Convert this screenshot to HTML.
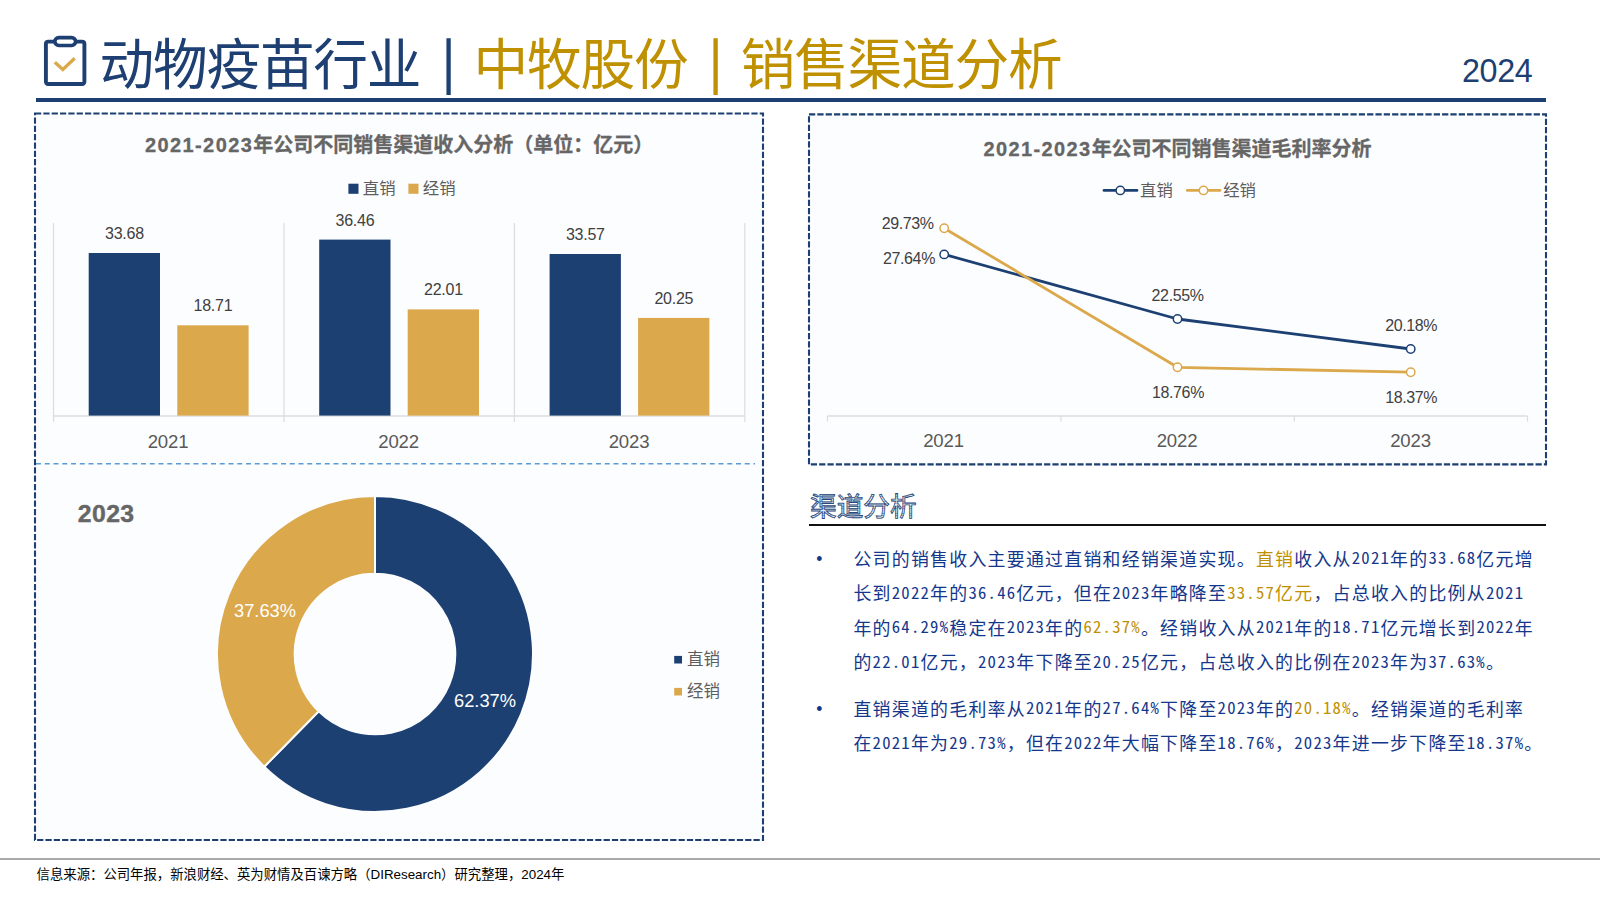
<!DOCTYPE html>
<html lang="zh-CN">
<head>
<meta charset="utf-8">
<title>动物疫苗行业｜中牧股份｜销售渠道分析</title>
<style>
html,body{margin:0;padding:0;background:#fff;}
body{width:1600px;height:900px;position:relative;overflow:hidden;
  font-family:"Liberation Sans","Noto Sans CJK SC",sans-serif;}
.abs{position:absolute;}
#hdr-title{left:99.6px;top:26px;height:78px;line-height:78px;font-size:54.7px;letter-spacing:-1.26px;white-space:nowrap;
  font-family:"Liberation Sans","Noto Sans CJK SC",sans-serif;font-weight:400;color:#1d3f72;}
#hdr-title .g{color:#bf9000;}
#hdr-title .bar{display:inline-block;position:relative;top:3px;left:1px;width:53.44px;letter-spacing:0;text-align:center;-webkit-text-stroke:2px currentColor;}
#hdr-year{right:67.6px;top:52.3px;font-size:32.3px;letter-spacing:-0.35px;line-height:38px;color:#1d3f72;white-space:nowrap;}
#hdr-line{left:36px;top:98px;width:1510px;height:4px;background:#1d3f72;}
#foot-line{left:0;top:858px;width:1600px;height:2px;background:#a9a9a9;}
#foot{left:36.6px;top:866px;font-size:13.36px;line-height:18px;color:#000;white-space:nowrap;}
svg text{font-family:"Liberation Sans","Noto Sans CJK SC",sans-serif;}
#sec-title{left:810px;top:489px;font-size:26.67px;line-height:36px;white-space:nowrap;
  font-family:"Liberation Sans","Noto Sans CJK SC",sans-serif;font-weight:400;
  color:transparent;background:repeating-linear-gradient(0deg,#eef1f6 0,#eef1f6 1.5px,#a3b2cb 1.5px,#a3b2cb 2.4px);-webkit-background-clip:text;background-clip:text;-webkit-text-stroke:0.85px #2a4a7d;}
#sec-line{left:809px;top:523.5px;width:737px;height:2.2px;background:#111;}
.para{left:853.4px;font-size:17.9px;letter-spacing:1.276px;line-height:34.58px;color:#14378b;white-space:nowrap;
  font-family:"Noto Sans CJK SC","Liberation Sans",sans-serif;}
.para i{font-style:normal;font-family:"Noto Sans CJK SC","Liberation Sans",sans-serif;font-feature-settings:"hwid" 1;font-size:16.7px;letter-spacing:1.238px;position:relative;top:-1.5px;line-height:0;}
.para .g{color:#bf9000;}
.bul{left:814.4px;font-size:17.5px;line-height:34.58px;color:#14378b;width:10px;text-align:center;}
</style>
</head>
<body>
<!-- ============ HEADER ============ -->
<svg class="abs" style="left:38px;top:30px" width="56" height="62" viewBox="38 30 56 62">
  <rect x="45.9" y="41.6" width="38.5" height="42.4" rx="2.2" ry="2.2" fill="none" stroke="#1d3f72" stroke-width="3.9"/>
  <rect x="54.84" y="37.58" width="20.75" height="7.9" rx="3.95" ry="3.95" fill="#fff" stroke="#1d3f72" stroke-width="3.6"/>
  <polyline points="54.8,62.2 62.85,69.5 74.7,58.2" fill="none" stroke="#dba84b" stroke-width="3.3"/>
</svg>
<div id="hdr-title" class="abs">动物疫苗行业<span class="bar">｜</span><span class="g">中牧股份<span class="bar">｜</span>销售渠道分析</span></div>
<div id="hdr-year" class="abs">2024</div>
<div id="hdr-line" class="abs"></div>

<!-- ============ PANELS / CHARTS ============ -->
<svg class="abs" style="left:0;top:0" width="1600" height="900" viewBox="0 0 1600 900">
  <!-- panel boxes -->
  <rect x="35" y="113.5" width="728" height="726.5" fill="#fcfdff" stroke="#1d3f72" stroke-width="2.1" stroke-dasharray="6.25 2.08"/>
  <rect x="809" y="114.4" width="737" height="350" fill="#fcfdff" stroke="#1d3f72" stroke-width="2.1" stroke-dasharray="6.25 2.08"/>
  <line x1="36" y1="463.7" x2="755" y2="463.7" stroke="#5b9bd5" stroke-width="1.5" stroke-dasharray="5 3.75"/>

  <!-- ===== bar chart ===== -->
  <text x="399.1" y="152" text-anchor="middle" font-size="20" font-weight="700" fill="#666" stroke="#666" stroke-width="0.3"><tspan letter-spacing="1.4">2021-2023</tspan>年公司不同销售渠道收入分析（单位：亿元）</text>
  <rect x="348.4" y="183.7" width="10.1" height="10.1" fill="#1d4073"/>
  <text x="362.8" y="194" font-size="16.4" fill="#5e5e5e">直销</text>
  <rect x="408.4" y="183.7" width="10.1" height="10.1" fill="#dba84b"/>
  <text x="422.8" y="194" font-size="16.4" fill="#5e5e5e">经销</text>
  <g stroke="#dcdcdc" stroke-width="1.2" fill="none">
    <line x1="53.5" y1="223" x2="53.5" y2="422"/>
    <line x1="284" y1="223" x2="284" y2="422"/>
    <line x1="514.4" y1="223" x2="514.4" y2="422"/>
    <line x1="744.8" y1="223" x2="744.8" y2="422"/>
    <line x1="53.5" y1="416" x2="744.8" y2="416" stroke-width="1.6"/>
  </g>
  <g fill="#1d4073">
    <rect x="88.7" y="253" width="71.3" height="162.6"/>
    <rect x="319.2" y="239.6" width="71.3" height="176"/>
    <rect x="549.6" y="254" width="71.3" height="161.6"/>
  </g>
  <g fill="#dba84b">
    <rect x="177.3" y="325.3" width="71.3" height="90.3"/>
    <rect x="407.7" y="309.4" width="71.3" height="106.2"/>
    <rect x="638.1" y="317.9" width="71.3" height="97.7"/>
  </g>
  <g font-size="16" letter-spacing="-0.25" fill="#404040" text-anchor="middle">
    <text x="124.4" y="239.2">33.68</text>
    <text x="212.9" y="311.2">18.71</text>
    <text x="354.9" y="226.2">36.46</text>
    <text x="443.4" y="295.3">22.01</text>
    <text x="585.3" y="239.8">33.57</text>
    <text x="673.8" y="303.9">20.25</text>
  </g>
  <g font-size="18.6" letter-spacing="-0.2" fill="#595959" text-anchor="middle">
    <text x="168" y="448">2021</text>
    <text x="398.6" y="448">2022</text>
    <text x="629" y="448">2023</text>
  </g>

  <!-- ===== donut chart ===== -->
  <text x="77.8" y="522.4" font-size="24.8" font-weight="700" fill="#666" stroke="#666" stroke-width="0.4" letter-spacing="0.4">2023</text>
  <g stroke="#fcfdff" stroke-width="2" stroke-linejoin="round">
    <path d="M375 496 A158 158 0 1 1 264.26 766.70 L318.72 711.28 A80.3 80.3 0 1 0 375 573.7 Z" fill="#1d4073"/>
    <path d="M264.26 766.70 A158 158 0 0 1 375 496 L375 573.7 A80.3 80.3 0 0 0 318.72 711.28 Z" fill="#dba84b"/>
  </g>
  <g font-size="18.3" fill="#fff" text-anchor="middle">
    <text x="265" y="616.8">37.63%</text>
    <text x="485" y="706.9">62.37%</text>
  </g>
  <rect x="674.2" y="655.9" width="7.8" height="7.6" fill="#1d4073"/>
  <text x="687" y="665.3" font-size="16.5" fill="#5e5e5e">直销</text>
  <rect x="674.2" y="687.9" width="7.8" height="7.6" fill="#dba84b"/>
  <text x="687" y="697.3" font-size="16.5" fill="#5e5e5e">经销</text>

  <!-- ===== line chart ===== -->
  <text x="1177.5" y="155.5" text-anchor="middle" font-size="20" font-weight="700" fill="#666" stroke="#666" stroke-width="0.3"><tspan letter-spacing="1.4">2021-2023</tspan>年公司不同销售渠道毛利率分析</text>
  <line x1="1104" y1="190.4" x2="1137" y2="190.4" stroke="#1d4073" stroke-width="2.7" stroke-linecap="round"/>
  <circle cx="1120.3" cy="190.4" r="4.2" fill="#fff" stroke="#1d4073" stroke-width="1.5"/>
  <text x="1140" y="196.4" font-size="16.4" fill="#5e5e5e">直销</text>
  <line x1="1187.3" y1="190.4" x2="1220" y2="190.4" stroke="#dba84b" stroke-width="2.7" stroke-linecap="round"/>
  <circle cx="1203.5" cy="190.4" r="4.2" fill="#fff" stroke="#dba84b" stroke-width="1.5"/>
  <text x="1223.2" y="196.4" font-size="16.4" fill="#5e5e5e">经销</text>
  <g stroke="#dcdcdc" stroke-width="1.6" fill="none">
    <line x1="827.5" y1="416" x2="1527.5" y2="416"/>
    <line x1="827.5" y1="416" x2="827.5" y2="421.5" stroke-width="1.2"/>
    <line x1="1061" y1="416" x2="1061" y2="421.5" stroke-width="1.2"/>
    <line x1="1294.3" y1="416" x2="1294.3" y2="421.5" stroke-width="1.2"/>
    <line x1="1527.5" y1="416" x2="1527.5" y2="421.5" stroke-width="1.2"/>
  </g>
  <polyline points="944.2,254.4 1177.5,319 1410.7,349" fill="none" stroke="#1d4073" stroke-width="2.8" stroke-linejoin="round" stroke-linecap="round"/>
  <polyline points="944.2,228.2 1177.5,367.3 1410.7,372.2" fill="none" stroke="#dba84b" stroke-width="2.8" stroke-linejoin="round" stroke-linecap="round"/>
  <g fill="#fff" stroke="#1d4073" stroke-width="1.5">
    <circle cx="944.2" cy="254.4" r="4.2"/><circle cx="1177.5" cy="319" r="4.2"/><circle cx="1410.7" cy="349" r="4.2"/>
  </g>
  <g fill="#fff" stroke="#dba84b" stroke-width="1.5">
    <circle cx="944.2" cy="228.2" r="4.2"/><circle cx="1177.5" cy="367.3" r="4.2"/><circle cx="1410.7" cy="372.2" r="4.2"/>
  </g>
  <g font-size="16" letter-spacing="-0.38" fill="#404040" text-anchor="middle">
    <text x="907.7" y="228.9">29.73%</text>
    <text x="909" y="263.8">27.64%</text>
    <text x="1177.6" y="301">22.55%</text>
    <text x="1411.2" y="330.8">20.18%</text>
    <text x="1178" y="397.6">18.76%</text>
    <text x="1411.2" y="403.4">18.37%</text>
  </g>
  <g font-size="18.6" letter-spacing="-0.2" fill="#595959" text-anchor="middle">
    <text x="943.5" y="447">2021</text>
    <text x="1177" y="447">2022</text>
    <text x="1410.5" y="447">2023</text>
  </g>
</svg>

<!-- ============ TEXT SECTION ============ -->
<div id="sec-title" class="abs">渠道分析</div>
<div id="sec-line" class="abs"></div>

<div class="abs bul" style="top:541.5px">•</div>
<div class="abs para" style="top:540.7px">公司的销售收入主要通过直销和经销渠道实现。<span class="g">直销</span>收入从<i>2021</i>年的<i>33.68</i>亿元增<br>长到<i>2022</i>年的<i>36.46</i>亿元，但在<i>2023</i>年略降至<span class="g"><i>33.57</i>亿元</span>，占总收入的比例从<i>2021</i><br>年的<i>64.29%</i>稳定在<i>2023</i>年的<span class="g"><i>62.37%</i></span>。经销收入从<i>2021</i>年的<i>18.71</i>亿元增长到<i>2022</i>年<br>的<i>22.01</i>亿元，<i>2023</i>年下降至<i>20.25</i>亿元，占总收入的比例在<i>2023</i>年为<i>37.63%</i>。</div>

<div class="abs bul" style="top:691.5px">•</div>
<div class="abs para" style="top:690.7px">直销渠道的毛利率从<i>2021</i>年的<i>27.64%</i>下降至<i>2023</i>年的<span class="g"><i>20.18%</i></span>。经销渠道的毛利率<br>在<i>2021</i>年为<i>29.73%</i>，但在<i>2022</i>年大幅下降至<i>18.76%</i>，<i>2023</i>年进一步下降至<i>18.37%</i>。</div>

<!-- ============ FOOTER ============ -->
<div id="foot-line" class="abs"></div>
<div id="foot" class="abs">信息来源：公司年报，新浪财经、英为财情及百谏方略（DIResearch）研究整理，2024年</div>
</body>
</html>
